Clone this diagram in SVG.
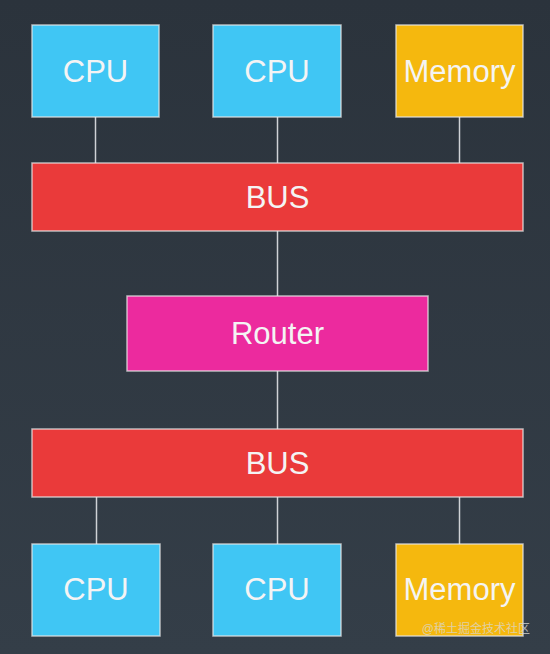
<svg xmlns="http://www.w3.org/2000/svg" width="550" height="654" viewBox="0 0 550 654">
<defs>
<linearGradient id="bg" x1="0" y1="0" x2="0" y2="1">
<stop offset="0" stop-color="#2b333c"/>
<stop offset="1" stop-color="#343e48"/>
</linearGradient>
</defs>
<style>
.box{stroke:#e6e6e6;stroke-opacity:0.75;stroke-width:1.5}
.cpu{fill:#40c6f4}
.mem{fill:#f5b80e}
.bus{fill:#ea3a3a}
.router{fill:#ec2a9e}
.lbl{font-family:"Liberation Sans",Arial,sans-serif;font-size:31px;fill:#f4f4f4;text-anchor:middle}
.wire{stroke:#cfd2d6;stroke-width:1.5;fill:none}
</style>
<rect width="550" height="654" fill="url(#bg)"/>
<g id="connectors">
<line class="wire" x1="95.5" y1="117" x2="95.5" y2="163"/>
<line class="wire" x1="277.5" y1="117" x2="277.5" y2="163"/>
<line class="wire" x1="459.5" y1="117" x2="459.5" y2="163"/>
<line class="wire" x1="277.5" y1="231" x2="277.5" y2="296"/>
<line class="wire" x1="277.5" y1="371" x2="277.5" y2="429"/>
<line class="wire" x1="96.5" y1="497" x2="96.5" y2="544"/>
<line class="wire" x1="277.5" y1="497" x2="277.5" y2="544"/>
<line class="wire" x1="459.5" y1="497" x2="459.5" y2="544"/>
</g>
<g id="cpu1"><rect class="box cpu" x="32" y="25" width="127" height="92"/><text class="lbl" x="95.5" y="82">CPU</text></g>
<g id="cpu2"><rect class="box cpu" x="213" y="25" width="128" height="92"/><text class="lbl" x="277" y="82">CPU</text></g>
<g id="mem1"><rect class="box mem" x="396" y="25" width="127" height="92"/><text class="lbl" x="459.5" y="82">Memory</text></g>
<g id="bus1"><rect class="box bus" x="32" y="163" width="491" height="68"/><text class="lbl" x="277.5" y="208">BUS</text></g>
<g id="router"><rect class="box router" x="127" y="296" width="301" height="75"/><text class="lbl" x="277.5" y="344">Router</text></g>
<g id="bus2"><rect class="box bus" x="32" y="429" width="491" height="68"/><text class="lbl" x="277.5" y="474">BUS</text></g>
<g id="cpu3"><rect class="box cpu" x="32" y="544" width="128" height="92"/><text class="lbl" x="96" y="600">CPU</text></g>
<g id="cpu4"><rect class="box cpu" x="213" y="544" width="128" height="92"/><text class="lbl" x="277" y="600">CPU</text></g>
<g id="mem2"><rect class="box mem" x="396" y="544" width="127" height="92"/><text class="lbl" x="459.5" y="600">Memory</text></g>
<text x="530" y="633" font-family="'Liberation Sans','Noto Sans CJK SC',sans-serif" font-size="12" fill="#d8d8d8" fill-opacity="0.75" text-anchor="end">@稀土掘金技术社区</text>
</svg>
